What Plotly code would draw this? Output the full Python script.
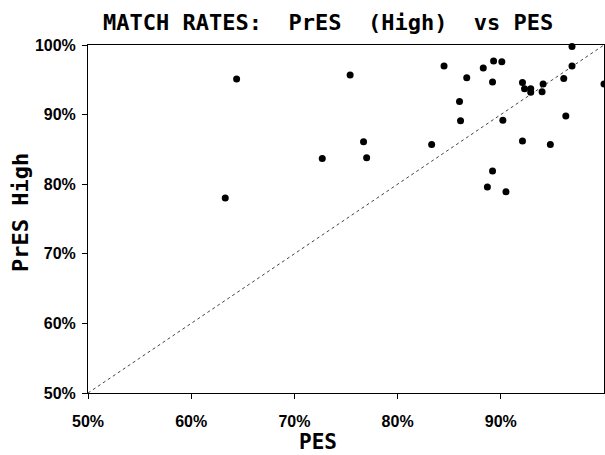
import plotly.graph_objects as go

# Data (PES match rate vs PrES High match rate, %)
pes = [64.4, 75.4, 63.3, 72.7, 77.0, 76.7, 83.3, 84.5, 86.0, 86.1, 86.7,
       88.3, 89.3, 90.1, 89.2, 88.7, 89.2, 90.5, 90.2, 92.1, 92.3, 92.9,
       92.9, 94.1, 94.0, 92.1, 94.8, 96.1, 96.3, 96.9, 96.9, 100.0]
pres_high = [95.1, 95.7, 78.0, 83.7, 83.8, 86.1, 85.7, 97.0, 91.9, 89.1, 95.3,
             96.7, 97.7, 97.6, 94.7, 79.6, 81.9, 78.9, 89.2, 94.6, 93.7, 93.7,
             93.2, 94.4, 93.3, 86.2, 85.7, 95.2, 89.8, 99.8, 97.0, 94.4]

diag_x = [50, 100]
diag_y = [50, 100]
tick_vals = [50, 60, 70, 80, 90]
tick_text = ["50%", "60%", "70%", "80%", "90%"]
ytick_vals = [50, 60, 70, 80, 90, 100]
ytick_text = ["50%", "60%", "70%", "80%", "90%", "100%"]

fig = go.Figure()
fig.add_trace(go.Scatter(x=diag_x, y=diag_y, mode="lines",
                         line=dict(color="#444", width=1, dash="dot"),
                         hoverinfo="skip", showlegend=False))
fig.add_trace(go.Scatter(x=pes, y=pres_high, mode="markers",
                         marker=dict(color="black", size=7),
                         cliponaxis=False, showlegend=False))

tickfont = dict(family="Liberation Sans", size=16, color="black", weight="bold")
axis_common = dict(showgrid=False, zeroline=False, showline=True,
                   linecolor="black", linewidth=1, mirror=True,
                   ticks="outside", tickcolor="black", ticklen=5,
                   tickfont=tickfont)

fig.update_xaxes(range=[50, 100], tickvals=tick_vals, ticktext=tick_text,
                 ticklabelstandoff=9, **axis_common)
fig.update_yaxes(range=[50, 100], tickvals=ytick_vals, ticktext=ytick_text,
                 ticklabelstandoff=3, **axis_common)

mono = "DejaVu Sans Mono"
fig.update_layout(
    width=605, height=455,
    margin=dict(l=88, r=1, t=45, b=62),
    paper_bgcolor="white", plot_bgcolor="white",
    annotations=[
        dict(text="MATCH RATES:  PrES  (High)  vs PES", xref="paper", yref="paper",
             x=0.465, y=1.066, xanchor="center", yanchor="middle", showarrow=False,
             font=dict(family=mono, size=22, color="black", weight="bold")),
        dict(text="PES", xref="paper", yref="paper",
             x=0.446, y=-0.14, xanchor="center", yanchor="middle", showarrow=False,
             font=dict(family=mono, size=21, color="black", weight="bold")),
        dict(text="PrES High", xref="paper", yref="paper", textangle=-90,
             x=-0.132, y=0.52, xanchor="center", yanchor="middle", showarrow=False,
             font=dict(family=mono, size=22, color="black", weight="bold")),
    ],
)

fig.write_html("out.html")
